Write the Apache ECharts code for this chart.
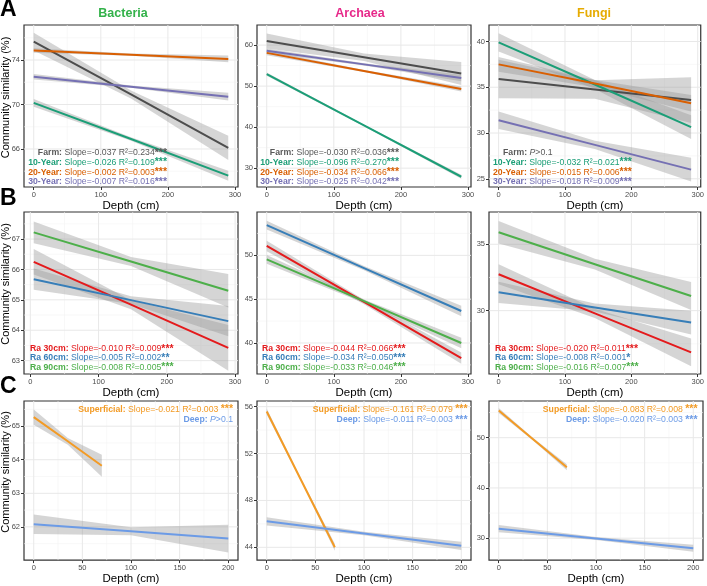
<!DOCTYPE html>
<html><head><meta charset="utf-8">
<script src="https://cdn.jsdelivr.net/npm/echarts@6/dist/echarts.min.js"></script>
<style>html,body{margin:0;padding:0;background:#fff}#c{width:707px;height:586px}</style>
</head><body><div id="c"></div>
<script>
// ---------------- DATA ----------------
const taxa = ['Bacteria', 'Archaea', 'Fungi'];
const taxaColors = ['#33B24A', '#E7298A', '#E6AB02'];

// Row A: time since abandonment
const groupsA = ['Farm', '10-Year', '20-Year', '30-Year'];
const colorsA = ['#4D4D4D', '#1B9E77', '#D95F02', '#7570B3'];
const depthA = [0, 145, 290];
const bactA = [[75.65, 70.9, 66.1], [70.15, 66.9, 63.6], [74.85, 74.48, 74.1], [72.5, 71.6, 70.7]];
const bactA_ci = [[0.8, 0.35, 1.1], [0.35, 0.15, 0.45], [0.2, 0.1, 0.3], [0.25, 0.1, 0.35]];
const archA = [[61.0, 57.05, 53.1], [52.9, 40.4, 27.9], [58.1, 53.7, 49.3], [58.6, 55.3, 52.0]];
const archA_ci = [[1.8, 0.9, 2.8], [0.4, 0.2, 0.5], [0.6, 0.25, 0.6], [0.6, 0.3, 0.8]];
const fungA = [[35.9, 34.75, 33.6], [39.9, 35.3, 30.65], [37.5, 35.4, 33.25], [31.4, 28.7, 26.0]];
const fungA_ci = [[2.1, 1.0, 2.5], [1.0, 0.5, 1.3], [0.8, 0.4, 0.9], [0.95, 0.45, 1.3]];
const statsA_bact = [['-0.037', '0.234', '***'], ['-0.026', '0.109', '***'], ['-0.002', '0.003', '***'], ['-0.007', '0.016', '***']];
const statsA_arch = [['-0.030', '0.036', '***'], ['-0.096', '0.270', '***'], ['-0.034', '0.066', '***'], ['-0.025', '0.042', '***']];
const statsA_fung = [null, ['-0.032', '0.021', '***'], ['-0.015', '0.006', '***'], ['-0.018', '0.009', '***']];

// Row B: Ra depth groups
const groupsB = ['Ra 30cm', 'Ra 60cm', 'Ra 90cm'];
const colorsB = ['#E41A1C', '#377EB8', '#4DAF4A'];
const depthB_bact = [5, 147.5, 290];
const depthB = [0, 145, 290];
const bactB = [[66.25, 64.84, 63.42], [65.68, 64.99, 64.3], [67.22, 66.26, 65.3]];
const bactB_ci = [[0.42, 0.15, 0.75], [0.35, 0.13, 0.5], [0.36, 0.15, 0.55]];
const archB = [[51.08, 44.68, 38.27], [53.46, 48.55, 43.65], [49.54, 44.77, 40.0]];
const archB_ci = [[0.6, 0.25, 0.65], [0.5, 0.25, 0.6], [0.5, 0.2, 0.6]];
const fungB = [[32.74, 29.8, 26.86], [31.38, 30.24, 29.1], [35.9, 33.5, 31.1]];
const fungB_ci = [[0.75, 0.35, 1.05], [0.8, 0.3, 0.9], [0.85, 0.4, 1.05]];
const statsB_bact = [['-0.010', '0.009', '***'], ['-0.005', '0.002', '**'], ['-0.008', '0.005', '***']];
const statsB_arch = [['-0.044', '0.066', '***'], ['-0.034', '0.050', '***'], ['-0.033', '0.046', '***']];
const statsB_fung = [['-0.020', '0.011', '***'], ['-0.008', '0.001', '*'], ['-0.016', '0.007', '***']];

// Row C: superficial vs deep
const groupsC = ['Superficial', 'Deep'];
const colorsC = ['#F39B25', '#6C9BE6'];
const depthC_sup = [0, 35, 70];
const depthC_deep = [0, 100, 200];
const bactC = [[65.27, 64.55, 63.82], [62.08, 61.87, 61.65]];
const bactC_ci = [[0.23, 0.1, 0.33], [0.29, 0.12, 0.41]];
const archC = [[55.58, 49.79, 44.0], [46.22, 45.18, 44.13]];
const archC_ci = [[0.25, 0.12, 0.3], [0.35, 0.15, 0.35]];
const fungC = [[55.4, 49.75, 44.1], [31.9, 29.95, 28.0]];
const fungC_ci = [[0.5, 0.25, 0.6], [0.7, 0.3, 0.7]];
const statsC_bact = [['-0.021', '0.003', '***'], null];
const statsC_arch = [['-0.161', '0.079', '***'], ['-0.011', '0.003', '***']];
const statsC_fung = [['-0.083', '0.008', '***'], ['-0.020', '0.003', '***']];

// Tick labels
const xTicksAB = [0, 100, 200, 300];
const xMinorAB = [50, 150, 250];
const xTicksC = [0, 50, 100, 150, 200];
const xMinorC = [25, 75, 125, 175];
const yTicksA = [[66, 70, 74], [30, 40, 50, 60], [25, 30, 35, 40]];
const yMinorA = [[64, 68, 72, 76], [35, 45, 55], [27.5, 32.5, 37.5]];
const yTicksB = [[63, 64, 65, 66, 67], [40, 45, 50], [30, 35]];
const yMinorB = [[63.5, 64.5, 65.5, 66.5, 67.5], [37.5, 42.5, 47.5, 52.5], [27.5, 32.5]];
const yTicksC = [[62, 63, 64, 65], [44, 48, 52, 56], [30, 40, 50]];
const yMinorC = [[61.5, 62.5, 63.5, 64.5, 65.5], [46, 50, 54], [35, 45, 55]];

// ---------------- LAYOUT ----------------
const FONT = '"Liberation Sans", Arial, Helvetica, sans-serif';
const colLeft = [24, 257, 489];
const rowTop = [25, 212, 401];
const PW = 214, PH = 162;
const yRangeA = [[62.58, 77.15], [25.4, 64.9], [24.1, 41.8]];
const yRangeB = [[62.56, 67.89], [36.46, 54.95], [25.23, 37.43]];
const yRangeC = [[61.01, 65.75], [42.91, 56.48], [25.64, 57.3]];

const grids = [], xAxes = [], yAxes = [], series = [], graphics = [];

function addPanel(row, col, cfg) {
  const idx = grids.length;
  grids.push({left: colLeft[col], top: rowTop[row], width: PW, height: PH, show: true,
    borderColor: '#333', borderWidth: 1.2, backgroundColor: '#fff'});
  xAxes.push({gridIndex: idx, type: 'value', min: cfg.xRange[0], max: cfg.xRange[1],
    axisLine: {show: false, onZero: false}, splitLine: {show: false},
    axisTick: {show: true, customValues: cfg.xTicks, length: 3, lineStyle: {color: '#333', width: 1}},
    axisLabel: {customValues: cfg.xTicks, fontSize: 7.5, color: '#4D4D4D', margin: 4, fontFamily: FONT},
    name: 'Depth (cm)', nameLocation: 'middle', nameGap: 10,
    nameTextStyle: {fontSize: 11.5, color: '#000', fontFamily: FONT}});
  yAxes.push({gridIndex: idx, type: 'value', min: cfg.yRange[0], max: cfg.yRange[1],
    axisLine: {show: false, onZero: false}, splitLine: {show: false},
    axisTick: {show: true, customValues: cfg.yTicks, length: 3, lineStyle: {color: '#333', width: 1}},
    axisLabel: {customValues: cfg.yTicks, fontSize: 7.5, color: '#4D4D4D', margin: 4, fontFamily: FONT}});
  // grid lines
  series.push({type: 'custom', xAxisIndex: idx, yAxisIndex: idx, z: 1, silent: true,
    data: [[cfg.xRange[0], cfg.yRange[0]]],
    renderItem: function (params, api) {
      const ch = [];
      const line = (a, b, c, w) => ch.push({type: 'line', shape: {x1: a[0], y1: a[1], x2: b[0], y2: b[1]},
        style: {stroke: c, lineWidth: w}});
      cfg.xMinor.forEach(v => line(api.coord([v, cfg.yRange[0]]), api.coord([v, cfg.yRange[1]]), '#F3F3F3', 0.6));
      cfg.yMinor.forEach(v => line(api.coord([cfg.xRange[0], v]), api.coord([cfg.xRange[1], v]), '#F3F3F3', 0.6));
      cfg.xTicks.forEach(v => line(api.coord([v, cfg.yRange[0]]), api.coord([v, cfg.yRange[1]]), '#E8E8E8', 1));
      cfg.yTicks.forEach(v => line(api.coord([cfg.xRange[0], v]), api.coord([cfg.xRange[1], v]), '#E8E8E8', 1));
      return {type: 'group', children: ch};
    }});
  // bands
  cfg.groups.forEach(g => {
    series.push({type: 'custom', xAxisIndex: idx, yAxisIndex: idx, z: 2, silent: true,
      data: g.xs.map((x, i) => [x, g.ys[i]]),
      renderItem: function (params, api) {
        if (params.dataIndex !== 0) return null;
        const pts = [];
        for (let i = 0; i < g.xs.length; i++) pts.push(api.coord([g.xs[i], g.ys[i] + g.ci[i]]));
        for (let i = g.xs.length - 1; i >= 0; i--) pts.push(api.coord([g.xs[i], g.ys[i] - g.ci[i]]));
        return {type: 'polygon', shape: {points: pts}, style: {fill: 'rgba(150,150,150,0.4)'}};
      }});
  });
  // lines
  cfg.groups.forEach(g => {
    series.push({type: 'line', xAxisIndex: idx, yAxisIndex: idx, z: 4, silent: true,
      data: g.xs.map((x, i) => [x, g.ys[i]]), showSymbol: false, symbol: 'none',
      lineStyle: {color: g.color, width: 2}, itemStyle: {color: g.color}});
  });
}

function mk(names, colors, xsList, ysList, ciList) {
  return names.map((n, i) => ({name: n, color: colors[i], xs: Array.isArray(xsList[0]) ? xsList[i] : xsList, ys: ysList[i], ci: ciList[i]}));
}

const xrAB = [-14.5, 304.5];
// Row A
addPanel(0, 0, {xRange: xrAB, xTicks: xTicksAB, xMinor: xMinorAB, yRange: yRangeA[0], yTicks: yTicksA[0], yMinor: yMinorA[0],
  groups: mk(groupsA, colorsA, depthA, bactA, bactA_ci)});
addPanel(0, 1, {xRange: xrAB, xTicks: xTicksAB, xMinor: xMinorAB, yRange: yRangeA[1], yTicks: yTicksA[1], yMinor: yMinorA[1],
  groups: mk(groupsA, colorsA, depthA, archA, archA_ci)});
addPanel(0, 2, {xRange: xrAB, xTicks: xTicksAB, xMinor: xMinorAB, yRange: yRangeA[2], yTicks: yTicksA[2], yMinor: yMinorA[2],
  groups: mk(groupsA, colorsA, depthA, fungA, fungA_ci)});
// Row B
addPanel(1, 0, {xRange: [-9.25, 304.25], xTicks: xTicksAB, xMinor: xMinorAB, yRange: yRangeB[0], yTicks: yTicksB[0], yMinor: yMinorB[0],
  groups: mk(groupsB, colorsB, depthB_bact, bactB, bactB_ci)});
addPanel(1, 1, {xRange: xrAB, xTicks: xTicksAB, xMinor: xMinorAB, yRange: yRangeB[1], yTicks: yTicksB[1], yMinor: yMinorB[1],
  groups: mk(groupsB, colorsB, depthB, archB, archB_ci)});
addPanel(1, 2, {xRange: xrAB, xTicks: xTicksAB, xMinor: xMinorAB, yRange: yRangeB[2], yTicks: yTicksB[2], yMinor: yMinorB[2],
  groups: mk(groupsB, colorsB, depthB, fungB, fungB_ci)});
// Row C
const xrC = [-10, 210];
const depthCList = [depthC_sup, depthC_deep];
addPanel(2, 0, {xRange: xrC, xTicks: xTicksC, xMinor: xMinorC, yRange: yRangeC[0], yTicks: yTicksC[0], yMinor: yMinorC[0],
  groups: mk(groupsC, colorsC, depthCList, bactC, bactC_ci)});
addPanel(2, 1, {xRange: xrC, xTicks: xTicksC, xMinor: xMinorC, yRange: yRangeC[1], yTicks: yTicksC[1], yMinor: yMinorC[1],
  groups: mk(groupsC, colorsC, depthCList, archC, archC_ci)});
addPanel(2, 2, {xRange: xrC, xTicks: xTicksC, xMinor: xMinorC, yRange: yRangeC[2], yTicks: yTicksC[2], yMinor: yMinorC[2],
  groups: mk(groupsC, colorsC, depthCList, fungC, fungC_ci)});

// ---------------- TEXT ----------------
const TS = 8.7;
function statText(x, y, label, stat, color, align, spaceStars) {
  let txt;
  if (stat) {
    txt = '{b|' + label + ':}{n| Slope=' + stat[0] + ' R²=' + stat[1] + (spaceStars ? ' ' : '') + '}{s|' + stat[2] + '}';
  } else {
    txt = '{b|' + label + ':}{n| }{i|P}{n|>0.1}';
  }
  graphics.push({type: 'text', x: x, y: y, z: 100, silent: true,
    style: {text: txt, align: align, verticalAlign: 'middle', fontFamily: FONT, fontSize: TS, fill: color,
      rich: {
        b: {fontWeight: 'bold', fill: color, fontSize: TS, fontFamily: FONT},
        n: {fill: color, fontSize: TS, fontFamily: FONT},
        i: {fill: color, fontStyle: 'italic', fontSize: TS, fontFamily: FONT},
        s: {fill: color, fontWeight: 'bold', fontSize: 10.5, fontFamily: FONT}
      }}});
}
const rowAY = [153, 162.6, 172.2, 181.8];
const farmTextColor = '#595959';
[statsA_bact, statsA_arch].forEach((st, c) => {
  const right = [167, 399][c];
  st.forEach((s, i) => statText(right, rowAY[i], groupsA[i], s, i === 0 ? farmTextColor : colorsA[i], 'right', false));
});
statsA_fung.forEach((s, i) => statText(i === 0 ? 503 : 493, rowAY[i], groupsA[i], s, i === 0 ? farmTextColor : colorsA[i], 'left', false));

const rowBY = [348.7, 358, 367.5];
[statsB_bact, statsB_arch, statsB_fung].forEach((st, c) => {
  const left = [30, 262, 495][c];
  st.forEach((s, i) => statText(left, rowBY[i], groupsB[i], s, colorsB[i], 'left', false));
});

const rowCY = [409.5, 420];
[statsC_bact, statsC_arch, statsC_fung].forEach((st, c) => {
  const right = [233, 467.5, 697.5][c];
  st.forEach((s, i) => statText(right, rowCY[i], groupsC[i], s, colorsC[i], 'right', true));
});

// titles
[123, 360, 594].forEach((x, i) => graphics.push({type: 'text', x: x, y: 13.5,
  style: {text: taxa[i], align: 'center', verticalAlign: 'middle', fontFamily: FONT, fontSize: 12.5, fontWeight: 'bold', fill: taxaColors[i]}}));
// panel letters
[['A', 10], ['B', 199], ['C', 387]].forEach(p => graphics.push({type: 'text', x: 0, y: p[1],
  style: {text: p[0], align: 'left', verticalAlign: 'middle', fontFamily: FONT, fontSize: 23, fontWeight: 'bold', fill: '#000'}}));
// y axis titles
[97.5, 284, 472].forEach(y => graphics.push({type: 'text', x: 6, y: y, rotation: Math.PI / 2,
  style: {text: 'Community similarity (%)', align: 'center', verticalAlign: 'middle', fontFamily: FONT, fontSize: 11, fill: '#000'}}));

const chart = echarts.init(document.getElementById('c'), null, {renderer: 'canvas'});
chart.setOption({
  animation: false,
  backgroundColor: '#fff',
  grid: grids, xAxis: xAxes, yAxis: yAxes, series: series, graphic: graphics
});
</script></body></html>
